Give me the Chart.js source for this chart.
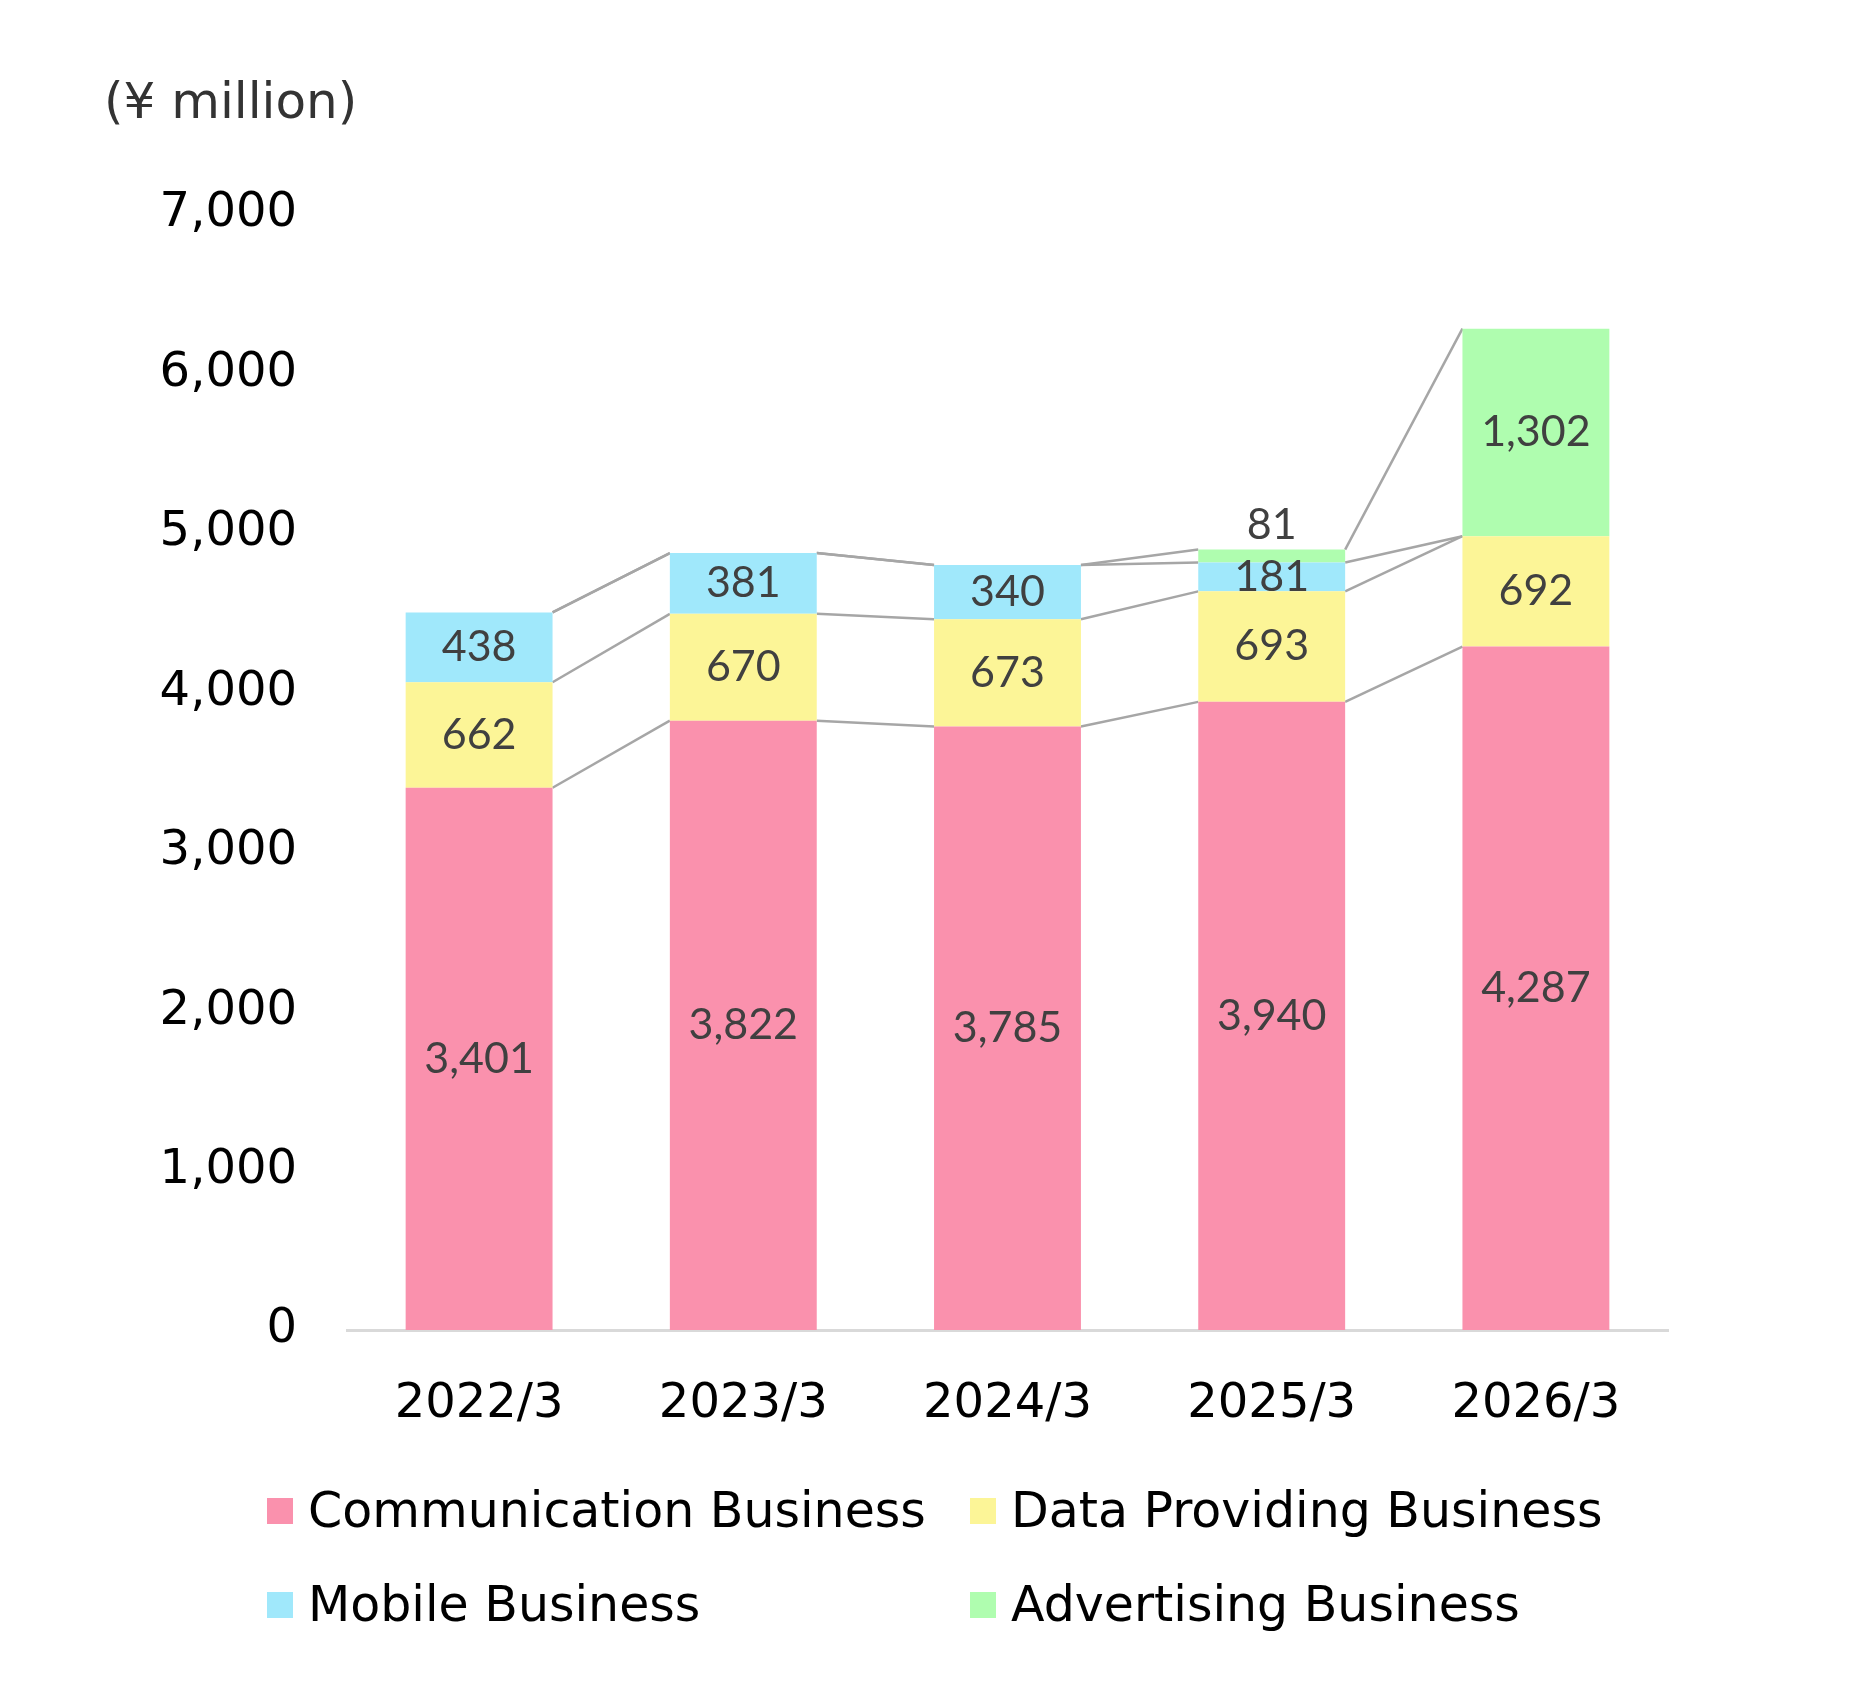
<!DOCTYPE html>
<html>
<head>
<meta charset="utf-8">
<script src="https://cdn.jsdelivr.net/npm/chart.js@4"></script>
<style>
  html, body { margin: 0; padding: 0; background: #fff; }
  #wrap { position: relative; width: 1855px; height: 1682px; }
  #unit {
    position: absolute; left: 104px; top: 73px;
    font: 50px "DejaVu Sans", sans-serif; line-height: 56px; color: #333;
  }
  .leg {
    position: absolute; display: flex; align-items: center;
    font: 49px "DejaVu Sans", sans-serif; line-height: 56px; color: #000;
  }
  .leg span.box { width: 26px; height: 26px; margin-right: 15px; }
</style>
</head>
<body>
<div id="wrap">
  <canvas id="salesChart" width="1855" height="1682"></canvas>
  <div id="unit">(¥ million)</div>
  <div id="legend"></div>
</div>
<script>
// fiscal years
const categories = ["2022/3", "2023/3", "2024/3", "2025/3", "2026/3"];

// sales by segment (¥ million)
const communication = [3401, 3822, 3785, 3940, 4287];
const dataProviding = [662, 670, 673, 693, 692];
const mobile = [438, 381, 340, 181, 0];
const advertising = [0, 0, 0, 81, 1302];

const seriesNames = ["Communication Business", "Data Providing Business", "Mobile Business", "Advertising Business"];
const seriesColors = ["#FA91AD", "#FCF597", "#A0E8FB", "#AFFDAF"];

// gray series lines joining the segment tops of neighbouring bars
const seriesLines = {
    id: "seriesLines",
    beforeDatasetsDraw(chart) {
        const ctx = chart.ctx;
        ctx.save();
        ctx.strokeStyle = "#A6A6A6";
        ctx.lineWidth = 2.5;
        chart.data.datasets.forEach((ds, i) => {
            const bars = chart.getDatasetMeta(i).data;
            for (let j = 0; j < bars.length - 1; j++) {
                const a = bars[j], b = bars[j + 1];
                ctx.beginPath();
                ctx.moveTo(a.x + a.width / 2, a.y);
                ctx.lineTo(b.x - b.width / 2, b.y);
                ctx.stroke();
            }
        });
        ctx.restore();
    }
};

// value labels in the middle of each segment (small ones above the bar)
const valueLabels = {
    id: "valueLabels",
    afterDatasetsDraw(chart) {
        const ctx = chart.ctx;
        ctx.save();
        ctx.font = "43px Lato, sans-serif";
        ctx.fillStyle = "#404040";
        ctx.textAlign = "center";
        ctx.textBaseline = "middle";
        chart.data.datasets.forEach((ds, i) => {
            chart.getDatasetMeta(i).data.forEach((bar, j) => {
                const v = ds.data[j];
                if (!v) return;
                const y = v < 150 ? bar.y - 24 : (bar.y + bar.base) / 2;
                ctx.fillText(v.toLocaleString("en-US"), bar.x, y);
            });
        });
        ctx.restore();
    }
};

const ctx = document.getElementById("salesChart").getContext("2d");

new Chart(ctx, {
    type: "bar",
    data: {
        labels: categories,
        datasets: [communication, dataProviding, mobile, advertising].map((d, i) => ({
            label: seriesNames[i],
            data: d,
            backgroundColor: seriesColors[i],
            borderWidth: 0,
            categoryPercentage: 1,
            barPercentage: 0.556
        }))
    },
    options: {
        responsive: false,
        animation: false,
        layout: { padding: { left: 0, right: 187, top: 214, bottom: 232 } },
        plugins: {
            legend: { display: false },
            tooltip: { enabled: false }
        },
        scales: {
            x: {
                stacked: true,
                grid: { display: false },
                border: { display: true, color: "#D9D9D9", width: 3 },
                ticks: {
                    color: "#000",
                    font: { family: "DejaVu Sans", size: 48 },
                    padding: 38
                },
                afterFit: (scale) => { scale.height = 120; }
            },
            y: {
                stacked: true,
                min: 0,
                max: 7000,
                grid: { display: false },
                border: { display: false },
                ticks: {
                    stepSize: 1000,
                    color: "#000",
                    font: { family: "DejaVu Sans", size: 48 },
                    padding: 42,
                    callback: (value) => value.toLocaleString("en-US")
                },
                afterFit: (scale) => { scale.width = 347; }
            }
        }
    },
    plugins: [seriesLines, valueLabels]
});

// legend, two columns
const legendPos = [[267, 1483], [970, 1483], [267, 1577], [970, 1577]];
const legend = document.getElementById("legend");
seriesNames.forEach((name, i) => {
    const item = document.createElement("div");
    item.className = "leg";
    item.style.left = legendPos[i][0] + "px";
    item.style.top = legendPos[i][1] + "px";
    item.innerHTML = '<span class="box" style="background:' + seriesColors[i] + '"></span>' + name;
    legend.appendChild(item);
});
</script>
</body>
</html>
